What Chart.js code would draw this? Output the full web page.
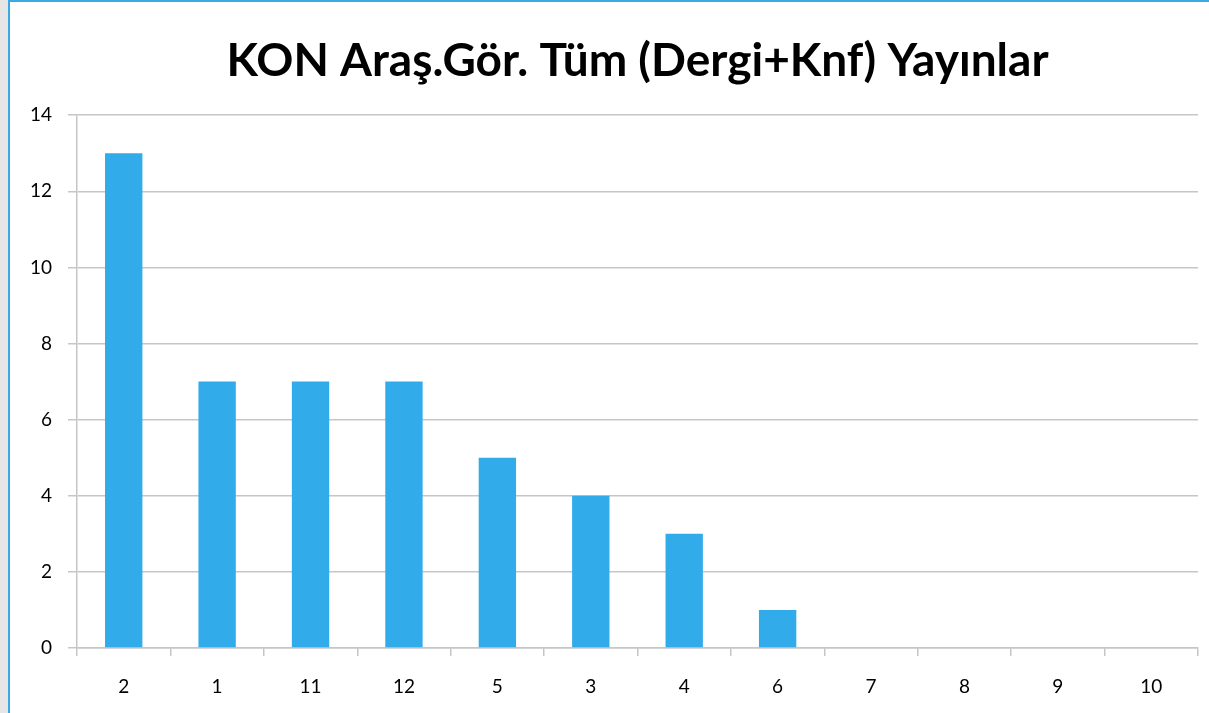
<!DOCTYPE html>
<html>
<head>
<meta charset="utf-8">
<script src="https://cdn.jsdelivr.net/npm/chart.js@4"></script>
<style>
  html, body { margin: 0; padding: 0; background: #e6e6e6; overflow: hidden; }
  #frame {
    position: absolute; left: 8px; top: 0;
    width: 1199px; height: 711px;
    background: #fff;
    border-left: 2px solid #3aa9e6;
    border-top: 2px solid #3aa9e6;
  }
</style>
</head>
<body>
<div id="frame"><canvas id="chart"></canvas></div>
<script>
// --- DATA ---
const categories = ["2", "1", "11", "12", "5", "3", "4", "6", "7", "8", "9", "10"];
const yayinlar = [13, 7, 7, 7, 5, 4, 3, 1, 0, 0, 0, 0];
const yTicks = [0, 2, 4, 6, 8, 10, 12, 14];

const gridGray = "#c6c6c6";

new Chart(document.getElementById("chart"), {
    type: "bar",
    data: {
        labels: categories,
        datasets: [{
            data: yayinlar,
            backgroundColor: "#32abea",
            borderWidth: 0,
            categoryPercentage: 1,
            barPercentage: 0.4
        }]
    },
    options: {
        responsive: true,
        maintainAspectRatio: false,
        animation: false,
        layout: { padding: { left: 0, right: 11, top: 0, bottom: 0 } },
        plugins: {
            legend: { display: false },
            tooltip: { enabled: false },
            title: {
                display: true,
                fullSize: false,
                text: "KON Araş.Gör. Tüm (Dergi+Knf) Yayınlar",
                color: "#000",
                font: { family: "Lato", size: 46, weight: "bold", lineHeight: 1.2 },
                padding: { top: 32, bottom: 26 }
            }
        },
        scales: {
            x: {
                grid: { offset: true, drawOnChartArea: false, drawTicks: true, tickLength: 8, color: gridGray, lineWidth: 1.5 },
                border: { color: gridGray, width: 1.5 },
                ticks: { color: "#000", padding: 19, font: { family: "Lato", size: 19 } },
                afterFit: (scale) => { scale.height = 65; }
            },
            y: {
                min: 0,
                max: 14,
                afterBuildTicks: (scale) => { scale.ticks = yTicks.map(v => ({ value: v })); },
                grid: { color: gridGray, lineWidth: 1.5, tickLength: 9 },
                border: { color: gridGray, width: 1.5 },
                ticks: { color: "#000", padding: 16, font: { family: "Lato", size: 19 } },
                afterFit: (scale) => { scale.width = 67; }
            }
        }
    }
});
</script>
</body>
</html>
